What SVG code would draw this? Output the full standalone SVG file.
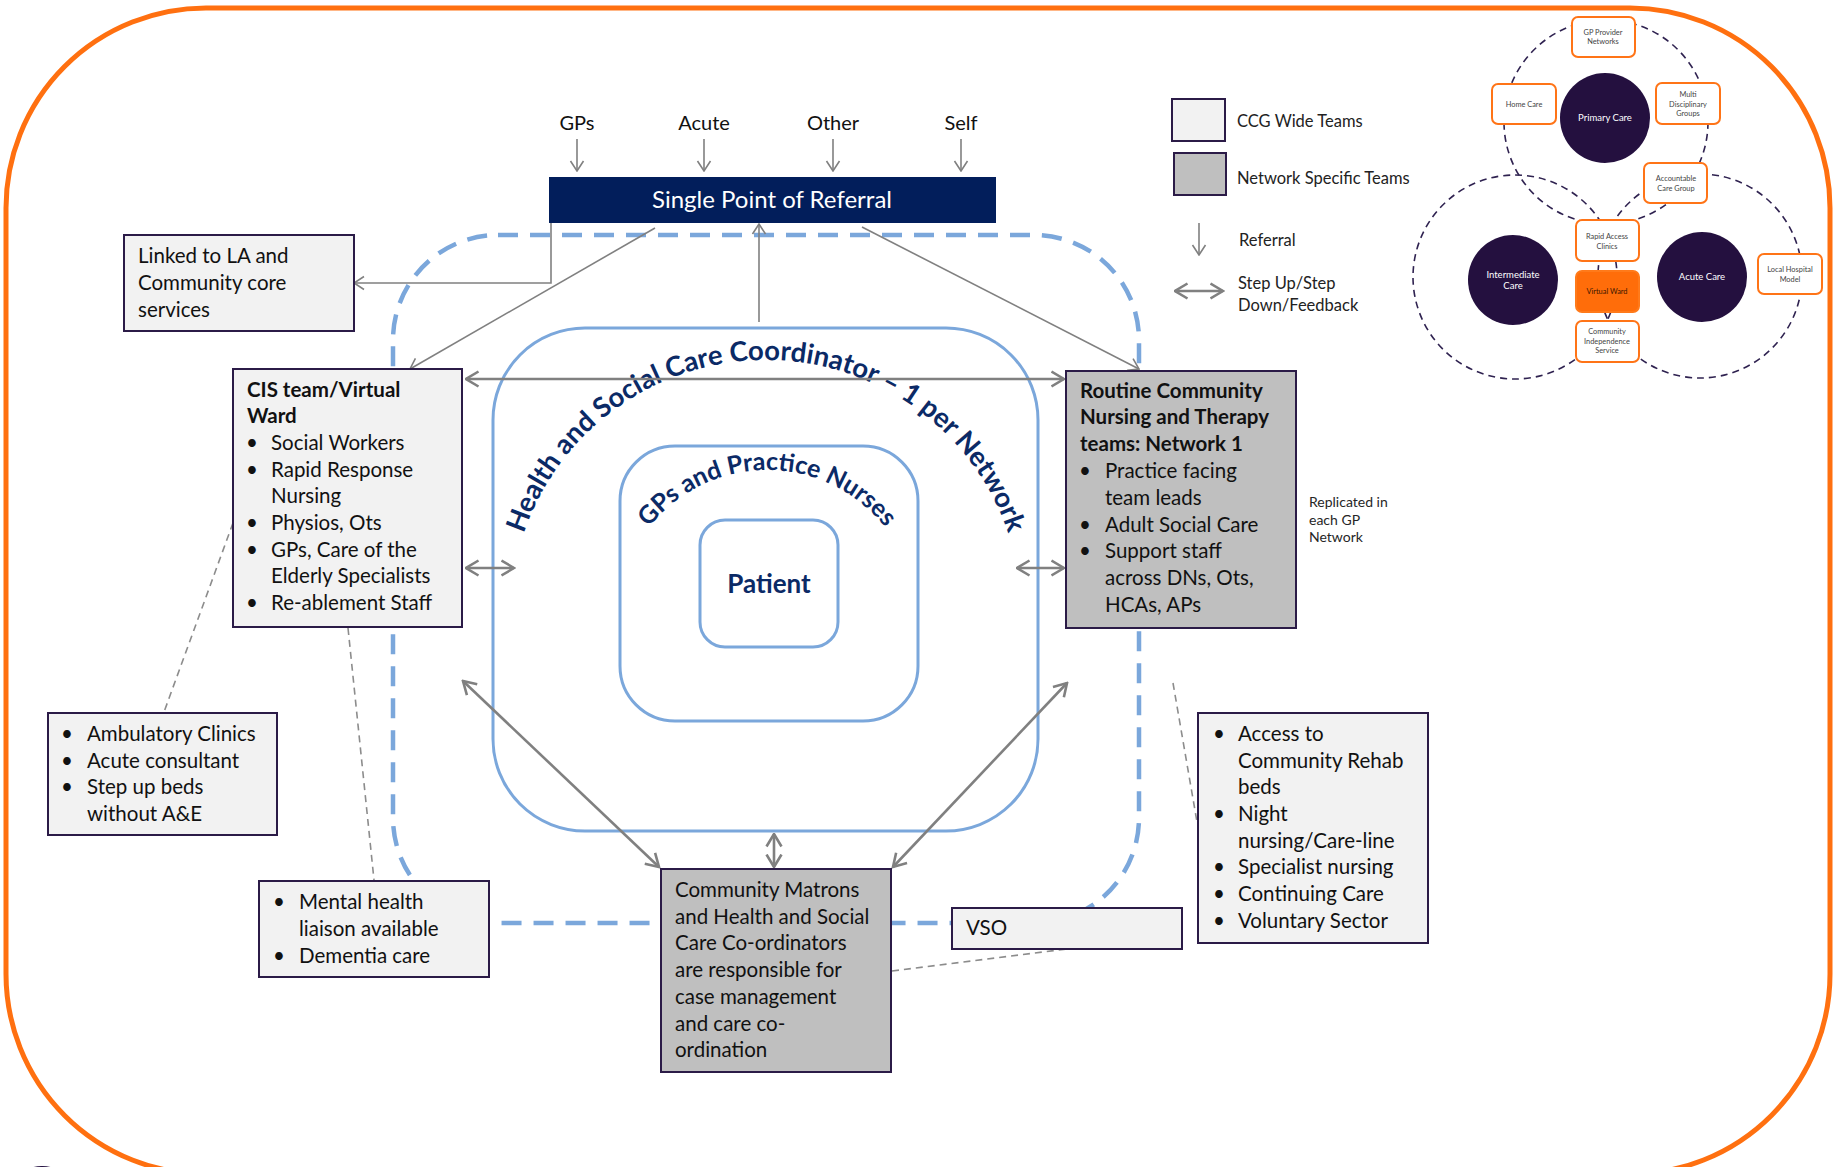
<svg xmlns="http://www.w3.org/2000/svg" width="1835" height="1167" viewBox="0 0 1835 1167">
<style>
.t{font-family:Lato,"Liberation Sans",sans-serif;font-size:20.5px;fill:#111}
.b{font-weight:bold}
.lg{font-family:Lato,"Liberation Sans",sans-serif;font-size:16.5px;fill:#222}
.boxL{fill:#F2F2F2;stroke:#2B1B47;stroke-width:2}
.boxD{fill:#BFBFBF;stroke:#2B1B47;stroke-width:2}
.ref{stroke:#808080;stroke-width:1.6;fill:none;marker-end:url(#ah)}
.step{stroke:#808080;stroke-width:2.6;fill:none;marker-start:url(#ah2);marker-end:url(#ah2)}
.gd{stroke:#8c8c8c;stroke-width:1.6;fill:none;stroke-dasharray:7 5}
.blue{fill:none;stroke:#7BA7DB;stroke-width:3}
.curv{font-family:Lato,"Liberation Sans",sans-serif;font-weight:bold;fill:#0B2A66}
.ob{fill:#fff;stroke:#FF7417;stroke-width:2}
.st{font-family:Lato,"Liberation Sans",sans-serif;font-size:7.4px;fill:#444;text-anchor:middle}
.ct{font-family:Lato,"Liberation Sans",sans-serif;font-size:9.5px;fill:#fff;text-anchor:middle}
.dc{fill:none;stroke:#2F2250;stroke-width:1.6;stroke-dasharray:7 5}
.pc{fill:#24103F}
</style>
<defs>
<marker id="ah" viewBox="0 0 12 16" refX="11" refY="8" markerWidth="12" markerHeight="16" markerUnits="userSpaceOnUse" orient="auto-start-reverse"><path d="M1,1.5 L11,8 L1,14.5" fill="none" stroke="#808080" stroke-width="1.6"/></marker>
<marker id="ah2" viewBox="0 0 15 18" refX="13.5" refY="9" markerWidth="15" markerHeight="18" markerUnits="userSpaceOnUse" orient="auto-start-reverse"><path d="M1,1.5 L13.5,9 L1,16.5" fill="none" stroke="#808080" stroke-width="2.6"/></marker>
<path id="arcOuter" d="M544.3,744 A256,256 0 1,1 987.7,744"/>
<path id="arcInner" d="M637.1,695 A150,150 0 1,1 896.9,695"/>
</defs>
<rect width="1835" height="1167" fill="#fff"/>
<rect x="6" y="8" width="1824" height="1166" rx="200" ry="200" fill="none" stroke="#FF7010" stroke-width="5"/>
<ellipse cx="42" cy="1171" rx="14" ry="5" fill="#231040"/>

<!-- rings -->
<g id="rings">
<rect x="393" y="235" width="746" height="688" rx="105" fill="none" stroke="#7BA7DB" stroke-width="4.5" stroke-dasharray="20 12"/>
<rect class="blue" x="493" y="328" width="545" height="503" rx="92"/>
<rect class="blue" x="620" y="446" width="298" height="275" rx="55"/>
<text class="curv" font-size="27.5"><textPath href="#arcOuter" startOffset="50%" text-anchor="middle">Health and Social Care Coordinator – 1 per Network</textPath></text>
<text class="curv" font-size="25"><textPath href="#arcInner" startOffset="50%" text-anchor="middle">GPs and Practice Nurses</textPath></text>
</g>
<g id="patient">
<rect class="blue" x="700" y="520" width="138" height="127" rx="25"/>
<text class="curv" font-size="26" x="769" y="593" text-anchor="middle">Patient</text>
</g>

<!-- connectors -->
<g id="connectors">
<line class="ref" x1="577" y1="139" x2="577" y2="171"/>
<line class="ref" x1="704" y1="139" x2="704" y2="171"/>
<line class="ref" x1="833" y1="139" x2="833" y2="171"/>
<line class="ref" x1="961" y1="139" x2="961" y2="171"/>
<polyline class="ref" points="551,223 551,283 354,283"/>
<line class="ref" x1="655" y1="228" x2="410" y2="369"/>
<line class="ref" x1="862" y1="227" x2="1139" y2="369"/>
<line class="ref" x1="759" y1="322" x2="759" y2="224"/>
<line class="step" x1="466" y1="379" x2="1064" y2="379"/>
<line class="step" x1="466" y1="568" x2="514" y2="568"/>
<line class="step" x1="1017" y1="568" x2="1064" y2="568"/>
<line class="step" x1="463" y1="681" x2="659" y2="867"/>
<line class="step" x1="1067" y1="683" x2="893" y2="867"/>
<line class="step" x1="774" y1="834" x2="774" y2="867"/>
<line class="gd" x1="233" y1="523" x2="164" y2="712"/>
<line class="gd" x1="348" y1="628" x2="374" y2="880"/>
<line class="gd" x1="1173" y1="683" x2="1197" y2="822"/>
<line class="gd" x1="892" y1="971" x2="1067" y2="949"/>
</g>

<!-- referral sources -->
<g id="sources" class="t">
<text x="577" y="130" text-anchor="middle" font-size="20">GPs</text>
<text x="704" y="130" text-anchor="middle" font-size="20">Acute</text>
<text x="833" y="130" text-anchor="middle" font-size="20">Other</text>
<text x="961" y="130" text-anchor="middle" font-size="20">Self</text>
</g>

<g id="spr">
<rect x="549" y="177" width="447" height="46" fill="#021E5B"/>
<text x="772" y="208" text-anchor="middle" style="font-family:Lato,'Liberation Sans',sans-serif;font-size:24px;fill:#fff">Single Point of Referral</text>
</g>

<g id="linked">
<rect class="boxL" x="124" y="235" width="230" height="96"/>
<text class="t" x="138" y="263">Linked to LA and</text>
<text class="t" x="138" y="290">Community core</text>
<text class="t" x="138" y="317">services</text>
</g>

<g id="cis">
<rect class="boxL" x="233" y="369" width="229" height="258"/>
<text class="t b" x="247" y="397">CIS team/Virtual</text>
<text class="t b" x="247" y="423">Ward</text>
<text class="t" x="246" y="450">•</text><text class="t" x="271" y="450">Social Workers</text>
<text class="t" x="246" y="477">•</text><text class="t" x="271" y="477">Rapid Response</text>
<text class="t" x="271" y="503">Nursing</text>
<text class="t" x="246" y="530">•</text><text class="t" x="271" y="530">Physios, Ots</text>
<text class="t" x="246" y="557">•</text><text class="t" x="271" y="557">GPs, Care of the</text>
<text class="t" x="271" y="583">Elderly Specialists</text>
<text class="t" x="246" y="610">•</text><text class="t" x="271" y="610">Re-ablement Staff</text>
</g>

<g id="routine">
<rect class="boxD" x="1066" y="371" width="230" height="257"/>
<text class="t b" x="1080" y="398">Routine Community</text>
<text class="t b" x="1080" y="424">Nursing and Therapy</text>
<text class="t b" x="1080" y="451">teams: Network 1</text>
<text class="t" x="1079" y="478">•</text><text class="t" x="1105" y="478">Practice facing</text>
<text class="t" x="1105" y="505">team leads</text>
<text class="t" x="1079" y="532">•</text><text class="t" x="1105" y="532">Adult Social Care</text>
<text class="t" x="1079" y="558">•</text><text class="t" x="1105" y="558">Support staff</text>
<text class="t" x="1105" y="585">across DNs, Ots,</text>
<text class="t" x="1105" y="612">HCAs, APs</text>
</g>

<g id="replicated" style="font-family:Lato,'Liberation Sans',sans-serif;font-size:14px;fill:#262626">
<text x="1309" y="507">Replicated in</text>
<text x="1309" y="525">each GP</text>
<text x="1309" y="542">Network</text>
</g>

<g id="ambulatory">
<rect class="boxL" x="48" y="713" width="229" height="122"/>
<text class="t" x="61" y="741">•</text><text class="t" x="87" y="741">Ambulatory Clinics</text>
<text class="t" x="61" y="768">•</text><text class="t" x="87" y="768">Acute consultant</text>
<text class="t" x="61" y="794">•</text><text class="t" x="87" y="794">Step up beds</text>
<text class="t" x="87" y="821">without A&amp;E</text>
</g>

<g id="mental">
<rect class="boxL" x="259" y="881" width="230" height="96"/>
<text class="t" x="273" y="909">•</text><text class="t" x="299" y="909">Mental health</text>
<text class="t" x="299" y="936">liaison available</text>
<text class="t" x="273" y="963">•</text><text class="t" x="299" y="963">Dementia care</text>
</g>

<g id="matrons">
<rect class="boxD" x="661" y="869" width="230" height="203"/>
<text class="t" x="675" y="897">Community Matrons</text>
<text class="t" x="675" y="924">and Health and Social</text>
<text class="t" x="675" y="950">Care Co-ordinators</text>
<text class="t" x="675" y="977">are responsible for</text>
<text class="t" x="675" y="1004">case management</text>
<text class="t" x="675" y="1031">and care co-</text>
<text class="t" x="675" y="1057">ordination</text>
</g>

<g id="vso">
<rect class="boxL" x="952" y="908" width="230" height="41"/>
<text class="t" x="966" y="935">VSO</text>
</g>

<g id="access">
<rect class="boxL" x="1198" y="713" width="230" height="230"/>
<text class="t" x="1213" y="741">•</text><text class="t" x="1238" y="741">Access to</text>
<text class="t" x="1238" y="768">Community Rehab</text>
<text class="t" x="1238" y="794">beds</text>
<text class="t" x="1213" y="821">•</text><text class="t" x="1238" y="821">Night</text>
<text class="t" x="1238" y="848">nursing/Care-line</text>
<text class="t" x="1213" y="874">•</text><text class="t" x="1238" y="874">Specialist nursing</text>
<text class="t" x="1213" y="901">•</text><text class="t" x="1238" y="901">Continuing Care</text>
<text class="t" x="1213" y="928">•</text><text class="t" x="1238" y="928">Voluntary Sector</text>
</g>

<g id="legend">
<rect class="boxL" x="1172" y="99" width="53" height="42"/>
<text class="lg" x="1237" y="127">CCG Wide Teams</text>
<rect class="boxD" x="1174" y="153" width="52" height="42"/>
<text class="lg" x="1237" y="184">Network Specific Teams</text>
<line class="ref" x1="1199" y1="223" x2="1199" y2="255"/>
<text class="lg" x="1239" y="246">Referral</text>
<line class="step" x1="1175" y1="291" x2="1223" y2="291"/>
<text class="lg" x="1238" y="289">Step Up/Step</text>
<text class="lg" x="1238" y="311">Down/Feedback</text>
</g>

<g id="inset">
<circle class="dc" cx="1606" cy="122" r="102"/>
<circle class="dc" cx="1515" cy="277" r="102"/>
<circle class="dc" cx="1700" cy="276" r="102"/>
<g id="primary-care"><circle class="pc" cx="1605" cy="118" r="45"/><text class="ct" x="1605" y="121">Primary Care</text></g>
<g id="intermediate-care"><circle class="pc" cx="1513" cy="280" r="45"/><text class="ct" x="1513" y="278">Intermediate</text><text class="ct" x="1513" y="289">Care</text></g>
<g id="acute-care"><circle class="pc" cx="1702" cy="277" r="45"/><text class="ct" x="1702" y="280">Acute Care</text></g>
<g id="gp-provider"><rect class="ob" x="1572" y="17" width="63" height="40" rx="6"/><text class="st" x="1603" y="35">GP Provider</text><text class="st" x="1603" y="44">Networks</text></g>
<g id="home-care"><rect class="ob" x="1492" y="84" width="64" height="40" rx="6"/><text class="st" x="1524" y="107">Home Care</text></g>
<g id="mdg"><rect class="ob" x="1656" y="83" width="64" height="41" rx="6"/><text class="st" x="1688" y="97">Multi</text><text class="st" x="1688" y="107">Disciplinary</text><text class="st" x="1688" y="116">Groups</text></g>
<g id="acg"><rect class="ob" x="1644" y="163" width="63" height="40" rx="6"/><text class="st" x="1676" y="181">Accountable</text><text class="st" x="1676" y="191">Care Group</text></g>
<g id="rac"><rect class="ob" x="1576" y="220" width="63" height="41" rx="6"/><text class="st" x="1607" y="239">Rapid Access</text><text class="st" x="1607" y="249">Clinics</text></g>
<g id="vw"><rect x="1576" y="271" width="63" height="41" rx="6" fill="#FF6D0A" stroke="#FF7A1A" stroke-width="2"/><text class="st" x="1607" y="294" style="fill:#3A1500">Virtual Ward</text></g>
<g id="cis-small"><rect class="ob" x="1576" y="321" width="63" height="41" rx="6"/><text class="st" x="1607" y="334">Community</text><text class="st" x="1607" y="344">Independence</text><text class="st" x="1607" y="353">Service</text></g>
<g id="lhm"><rect class="ob" x="1758" y="254" width="64" height="40" rx="6"/><text class="st" x="1790" y="272">Local Hospital</text><text class="st" x="1790" y="282">Model</text></g>
</g>
</svg>
